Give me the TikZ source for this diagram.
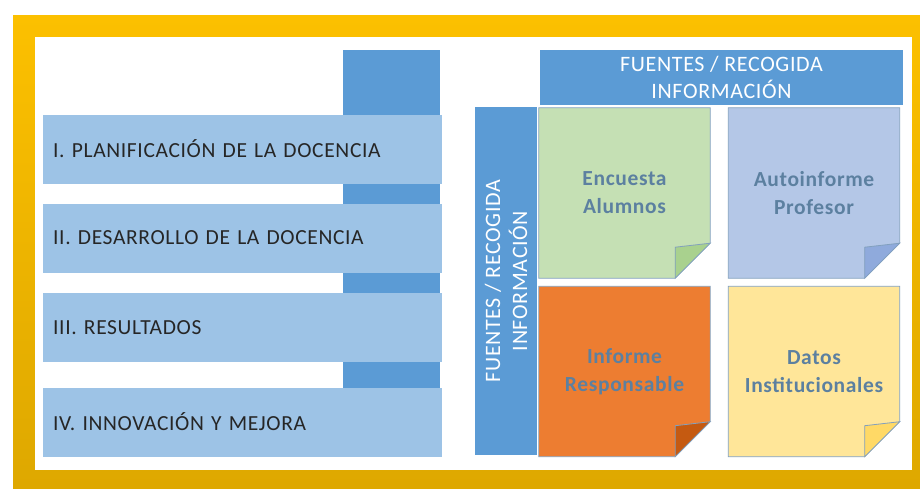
\documentclass[tikz,border=0pt]{standalone}
\usepackage{fontspec}
\setmainfont{Carlito}[LetterSpace=3]
\usetikzlibrary{positioning,backgrounds}

\definecolor{goldtop}{RGB}{252,192,0}
\definecolor{goldbot}{RGB}{222,168,0}
\definecolor{barblue}{RGB}{157,195,230}
\definecolor{bartext}{RGB}{38,38,38}
\definecolor{tabblue}{RGB}{91,155,213}
\definecolor{notegreen}{RGB}{197,224,180}
\definecolor{foldgreen}{RGB}{169,209,142}
\definecolor{notelila}{RGB}{180,199,231}
\definecolor{foldlila}{RGB}{143,170,220}
\definecolor{noteorange}{RGB}{237,125,49}
\definecolor{foldorange}{RGB}{197,90,17}
\definecolor{noteyellow}{RGB}{255,230,153}
\definecolor{foldyellow}{RGB}{255,217,102}
\definecolor{notetext}{RGB}{92,128,160}
\definecolor{noteline}{RGB}{130,160,190}

% page with folded corner behind a note node
\newcommand{\notepage}[3]{%
  \filldraw[fill=#2, draw=noteline, line width=0.8pt]
    (#1.north west) -- (#1.north east) -- ([yshift=35pt]#1.south east)
    -- ([xshift=-35pt]#1.south east) -- (#1.south west) -- cycle;
  \filldraw[fill=#3, draw=noteline, line width=0.8pt]
    ([xshift=-35pt]#1.south east) -- ([xshift=-35pt,yshift=31pt]#1.south east)
    -- ([yshift=35pt]#1.south east) -- cycle;}

\begin{document}
\begin{tikzpicture}[x=1pt,y=-1pt,
    bar/.style={rectangle, fill=barblue, minimum height=69pt, anchor=west,
      text width=379pt, inner xsep=10pt, align=left, text=bartext,
      font=\fontsize{21.5}{26}\selectfont},
    tabcol/.style={rectangle, fill=tabblue, anchor=north west, inner sep=0pt},
    head/.style={rectangle, fill=tabblue, text=white, align=center, inner sep=0pt,
      font=\fontsize{22}{27}\selectfont},
    note/.style={rectangle, minimum width=171pt, minimum height=170pt,
      align=center, text=notetext, font=\bfseries\fontsize{21.5}{28}\selectfont}]
  \useasboundingbox (0,0) rectangle (920,488);

  % left column
  \node (tab) [tabcol, minimum width=97pt, minimum height=407pt] at (343,50) {};
  \node (plan) [bar] at (43,149) {I. PLANIFICACIÓN DE LA DOCENCIA};
  \node (desa) [bar] at (43,238) {II. DESARROLLO DE LA DOCENCIA};
  \node (resu) [bar] at (43,327.5) {III. RESULTADOS};
  \node (inno) [bar] at (43,422) {IV. INNOVACIÓN Y MEJORA};

  % right block
  \node (top) [head, minimum width=363pt, minimum height=55pt] at (721.5,77.5)
    {FUENTES / RECOGIDA\\INFORMACIÓN};
  \node (side) [head, rotate=90, minimum width=348pt, minimum height=62pt] at (506,281)
    {FUENTES / RECOGIDA\\INFORMACIÓN};
  \node (enc) [note] at (624.5,193) {Encuesta\\Alumnos};
  \node (auto) [note] at (814,193) {Autoinforme\\Profesor};
  \node (resp) [note] at (624.5,371.5) {Informe\\Responsable};
  \node (dato) [note] at (814,371.5) {Datos\\Institucionales};

  \begin{pgfonlayer}{background}
    \shade[top color=goldtop, bottom color=goldbot] (13,15) rectangle (920,488);
    \fill[white] (35,37) rectangle (912,470);
    \notepage{enc}{notegreen}{foldgreen}
    \notepage{auto}{notelila}{foldlila}
    \notepage{resp}{noteorange}{foldorange}
    \notepage{dato}{noteyellow}{foldyellow}
  \end{pgfonlayer}
\end{tikzpicture}
\end{document}
